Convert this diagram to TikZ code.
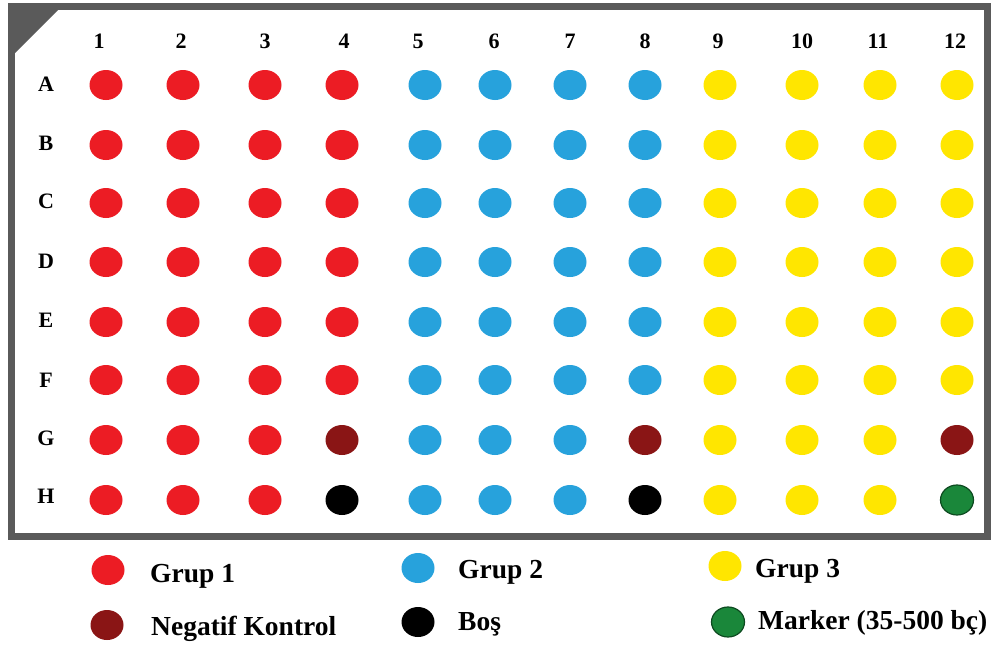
\documentclass[tikz,border=0pt]{standalone}
\usepackage{fontspec}
\setmainfont{Liberation Serif}
\usetikzlibrary{shapes.geometric}
\definecolor{wred}{HTML}{EC1C24}
\definecolor{wblue}{HTML}{27A2DC}
\definecolor{wyellow}{HTML}{FFE600}
\definecolor{wdred}{HTML}{8A1515}
\definecolor{wgreen}{HTML}{1A873A}
\definecolor{wgreenline}{HTML}{0D4A20}
\definecolor{plateframe}{HTML}{5A5A5A}
\begin{document}
\begin{tikzpicture}[x=1pt,y=-1pt,
  well/.style={ellipse, minimum width=33pt, minimum height=30pt, inner sep=0pt},
  lbl/.style={font=\fontsize{22}{22}\selectfont\bfseries, anchor=base, inner sep=0pt},
  rowlbl/.style={font=\fontsize{22}{22}\selectfont\bfseries, anchor=center, inner sep=0pt},
  leg/.style={font=\fontsize{27.5}{27.5}\selectfont\bfseries, anchor=base west, inner sep=0pt}]
\useasboundingbox[fill=white] (0,0) rectangle (993,648);
% plate frame
\draw[plateframe, line width=7pt] (11.5,6.5) rectangle (987.5,536.5);
\fill[plateframe] (8,3) -- (65,3) -- (8,60) -- cycle;
% column labels
\foreach \x [count=\i] in {99,181,265,344,418,494,570,645,718,802,878,955}
  \node[lbl] (col\i) at (\x,48) {\i};
% row labels
\foreach \r/\y in {A/84,B/143,C/201,D/261,E/320,F/380,G/438,H/496}
  \node[rowlbl] (row\r) at (46,\y) {\r};
% group 1 wells
\foreach \x [count=\i] in {106,183,265}
  \foreach \r/\y in {A/85,B/145,C/203,D/262,E/322,F/380,G/440,H/500}
    \node[well,fill=wred] (\r\i) at (\x,\y) {};
\foreach \r/\y in {A/85,B/145,C/203,D/262,E/322,F/380}
  \node[well,fill=wred] (\r4) at (342,\y) {};
\node[well,fill=wdred] (G4) at (342,440) {};
\node[well,fill=black] (H4) at (342,500) {};
% group 2 wells
\foreach \x [count=\i from 5] in {425,495,570}
  \foreach \r/\y in {A/85,B/145,C/203,D/262,E/322,F/380,G/440,H/500}
    \node[well,fill=wblue] (\r\i) at (\x,\y) {};
\foreach \r/\y in {A/85,B/145,C/203,D/262,E/322,F/380}
  \node[well,fill=wblue] (\r8) at (645,\y) {};
\node[well,fill=wdred] (G8) at (645,440) {};
\node[well,fill=black] (H8) at (645,500) {};
% group 3 wells
\foreach \x [count=\i from 9] in {720,802,880}
  \foreach \r/\y in {A/85,B/145,C/203,D/262,E/322,F/380,G/440,H/500}
    \node[well,fill=wyellow] (\r\i) at (\x,\y) {};
\foreach \r/\y in {A/85,B/145,C/203,D/262,E/322,F/380}
  \node[well,fill=wyellow] (\r12) at (957,\y) {};
\node[well,fill=wdred] (G12) at (957,440) {};
\node[well,fill=wgreen,draw=wgreenline,line width=1.2pt] (H12) at (957,500) {};
% legend
\node[well,fill=wred] (legG1) at (108,570) {};
\node[leg] (legG1t) at (150,582) {Grup 1};
\node[well,fill=wdred] (legNK) at (107,625) {};
\node[leg] (legNKt) at (151,635) {Negatif Kontrol};
\node[well,fill=wblue] (legG2) at (418,568) {};
\node[leg] (legG2t) at (458,578) {Grup 2};
\node[well,fill=black] (legB) at (418,622) {};
\node[leg] (legBt) at (458,630) {Boş};
\node[well,fill=wyellow] (legG3) at (725,566) {};
\node[leg] (legG3t) at (755,577) {Grup 3};
\node[well,fill=wgreen,draw=wgreenline,line width=1.2pt] (legM) at (728,622) {};
\node[leg] (legMt) at (758,629) {Marker (35-500 bç)};
\end{tikzpicture}
\end{document}
